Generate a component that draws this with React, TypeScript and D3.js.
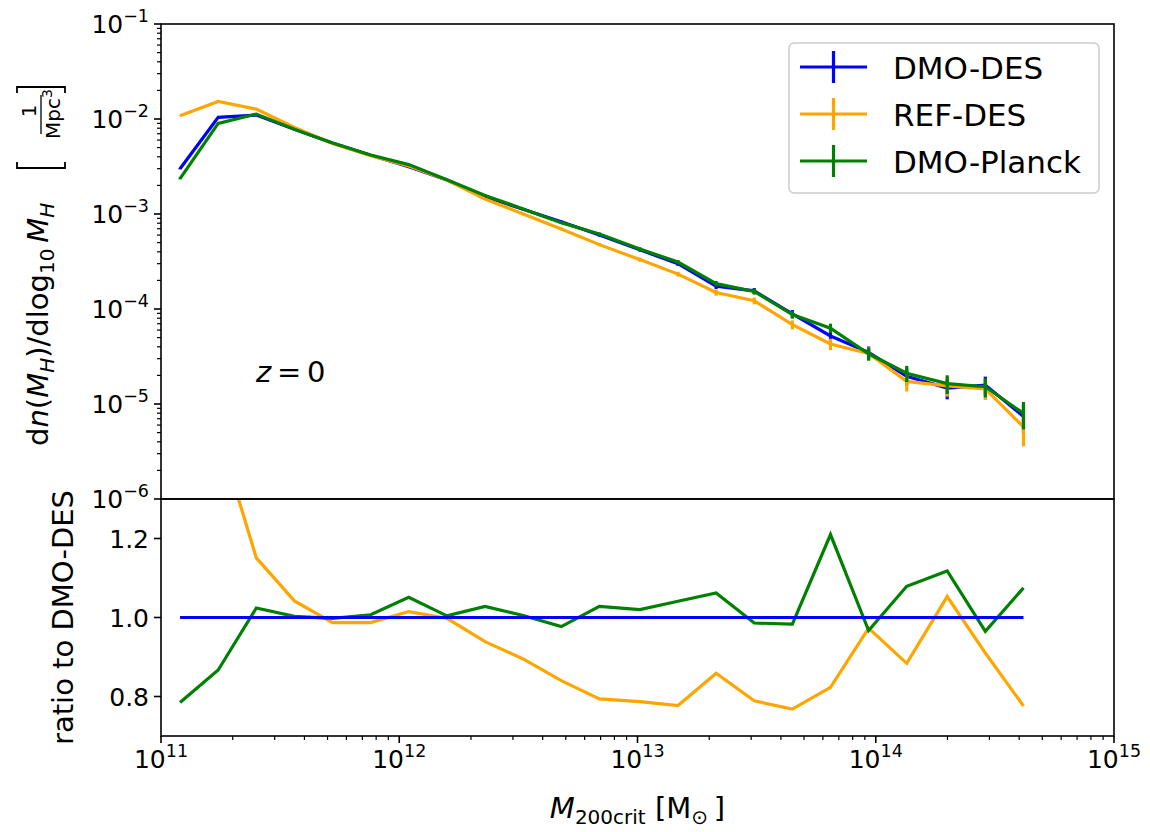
import React from "react";
import * as d3 from "d3";

// ---------- data ----------
const haloMass = [
  1.202e11, 1.738e11, 2.512e11, 3.631e11, 5.248e11, 7.586e11, 1.096e12, 1.585e12,
  2.291e12, 3.311e12, 4.786e12, 6.918e12, 1.023e13, 1.479e13, 2.138e13, 3.09e13,
  4.467e13, 6.457e13, 9.333e13, 1.349e14, 1.995e14, 2.884e14, 4.169e14,
];

const dmoDes = [
  3.0e-3, 1.04e-2, 1.1e-2, 7.8e-3, 5.6e-3, 4.15e-3, 3.15e-3, 2.28e-3, 1.53e-3, 1.12e-3,
  8.3e-4, 6.0e-4, 4.2e-4, 3.0e-4, 1.74e-4, 1.55e-4, 8.9e-5, 5.2e-5, 3.5e-5, 1.96e-5,
  1.47e-5, 1.58e-5, 7.4e-6,
];
const refDes = [
  1.08e-2, 1.53e-2, 1.27e-2, 8.13e-3, 5.53e-3, 4.1e-3, 3.2e-3, 2.28e-3, 1.44e-3, 1.0e-3,
  6.97e-4, 4.76e-4, 3.31e-4, 2.33e-4, 1.49e-4, 1.22e-4, 6.84e-5, 4.28e-5, 3.41e-5, 1.73e-5,
  1.55e-5, 1.44e-5, 5.74e-6,
];
const dmoPlanck = [
  2.36e-3, 9.0e-3, 1.126e-2, 7.82e-3, 5.59e-3, 4.18e-3, 3.31e-3, 2.29e-3, 1.57e-3, 1.13e-3,
  8.11e-4, 6.17e-4, 4.28e-4, 3.12e-4, 1.85e-4, 1.53e-4, 8.75e-5, 6.29e-5, 3.38e-5, 2.11e-5,
  1.64e-5, 1.52e-5, 7.96e-6,
];

const errDmoDes = [
  4.9e-5, 9.2e-5, 9.5e-5, 8.0e-5, 6.7e-5, 5.8e-5, 5.1e-5, 4.3e-5, 3.5e-5, 3.0e-5,
  2.6e-5, 2.2e-5, 1.85e-5, 1.56e-5, 1.19e-5, 1.12e-5, 8.5e-6, 6.5e-6, 5.3e-6, 4.0e-6,
  3.5e-6, 3.6e-6, 2.45e-6,
];
const errRefDes = [
  9.4e-5, 1.12e-4, 1.02e-4, 8.1e-5, 6.7e-5, 5.8e-5, 5.1e-5, 4.3e-5, 3.4e-5, 2.85e-5,
  2.4e-5, 1.97e-5, 1.64e-5, 1.38e-5, 1.1e-5, 1.0e-5, 7.5e-6, 5.9e-6, 5.3e-6, 3.75e-6,
  3.55e-6, 3.4e-6, 2.15e-6,
];
const errDmoPlanck = [
  4.4e-5, 8.6e-5, 9.6e-5, 8.0e-5, 6.7e-5, 5.8e-5, 5.2e-5, 4.3e-5, 3.6e-5, 3.0e-5,
  2.6e-5, 2.25e-5, 1.87e-5, 1.6e-5, 1.23e-5, 1.12e-5, 8.4e-6, 7.2e-6, 5.2e-6, 4.1e-6,
  3.65e-6, 3.5e-6, 2.55e-6,
];

const ratioDmoDes = [
  1, 1, 1, 1, 1, 1, 1, 1, 1, 1, 1, 1, 1, 1, 1, 1, 1, 1, 1, 1, 1, 1, 1,
];
const ratioRefDes = [
  3.6, 1.47, 1.151, 1.042, 0.987, 0.987, 1.015, 0.998, 0.939, 0.895, 0.84, 0.794, 0.787,
  0.777, 0.859, 0.789, 0.768, 0.823, 0.973, 0.884, 1.053, 0.91, 0.776,
];
const ratioDmoPlanck = [
  0.785, 0.867, 1.024, 1.003, 0.998, 1.007, 1.051, 1.004, 1.028, 1.005, 0.977, 1.028, 1.02,
  1.041, 1.062, 0.986, 0.983, 1.21, 0.967, 1.079, 1.118, 0.965, 1.075,
];

const seriesNames = ["DMO-DES", "REF-DES", "DMO-Planck"];
const seriesColors = ["#0000ff", "#ffa500", "#008000"];

const xTickExponents = [11, 12, 13, 14, 15];
const yTopTickExponents = [-1, -2, -3, -4, -5, -6];
const yBotTicks = [0.8, 1.0, 1.2];
const yBotTickLabels = ["0.8", "1.0", "1.2"];

// ---------- layout ----------
const W = 1150;
const H = 832;
const L = 161;
const R = 1114;
const TOP = 24;
const MID = 499;
const BOT = 736;
const FONT = "DejaVu Sans, Verdana, sans-serif";
const LW = 3.2;

export default function App() {
  const x = d3.scaleLog().domain([1e11, 1e15]).range([L, R]);
  const yTop = d3.scaleLog().domain([1e-6, 1e-1]).range([MID, TOP]);
  const yBot = d3.scaleLinear().domain([0.7, 1.3]).range([BOT, MID]);

  const topSeries = [dmoDes, refDes, dmoPlanck];
  const topErr = [errDmoDes, errRefDes, errDmoPlanck];
  const ratios = [ratioDmoDes, ratioRefDes, ratioDmoPlanck];

  const lineTop = d3
    .line<number>()
    .x((_, i) => x(haloMass[i]))
    .y((d) => yTop(d));
  const lineBot = d3
    .line<number>()
    .x((_, i) => x(haloMass[i]))
    .y((d) => yBot(d));

  // minor ticks
  const xMinor: number[] = [];
  for (let e = 11; e < 15; e++) for (let k = 2; k <= 9; k++) xMinor.push(k * Math.pow(10, e));
  const yMinor: number[] = [];
  for (let e = -6; e < -1; e++) for (let k = 2; k <= 9; k++) yMinor.push(k * Math.pow(10, e));

  const tickColor = "#000";

  // ratio-panel draw order: orange, green, then blue
  const botOrder = [1, 2, 0];

  const legendRows = [67, 114, 161];

  return (
    <svg
      width={W}
      height={H}
      viewBox={`0 0 ${W} ${H}`}
      style={{ position: "absolute", left: 0, top: 0, background: "#fff" }}
      fontFamily={FONT}
    >
      <rect x={0} y={0} width={W} height={H} fill="#fff" />
      <defs>
        <clipPath id="clipTop">
          <rect x={L} y={TOP} width={R - L} height={MID - TOP} />
        </clipPath>
        <clipPath id="clipBot">
          <rect x={L} y={MID} width={R - L} height={BOT - MID} />
        </clipPath>
      </defs>

      {/* top panel data */}
      <g clipPath="url(#clipTop)">
        {topSeries.map((s, si) => (
          <g key={si}>
            <path
              d={lineTop(s) || ""}
              fill="none"
              stroke={seriesColors[si]}
              strokeWidth={LW}
              strokeLinejoin="miter"
            />
            {s.map((v, i) => {
              const e = topErr[si][i];
              const lo = Math.max(v - e, 1e-9);
              return (
                <line
                  key={i}
                  x1={x(haloMass[i])}
                  x2={x(haloMass[i])}
                  y1={yTop(v + e)}
                  y2={yTop(lo)}
                  stroke={seriesColors[si]}
                  strokeWidth={LW}
                />
              );
            })}
          </g>
        ))}
      </g>

      {/* bottom panel data */}
      <g clipPath="url(#clipBot)">
        {botOrder.map((si) => (
          <path
            key={si}
            d={lineBot(ratios[si]) || ""}
            fill="none"
            stroke={seriesColors[si]}
            strokeWidth={LW}
          />
        ))}
      </g>

      {/* spines */}
      <rect x={L} y={TOP} width={R - L} height={MID - TOP} fill="none" stroke="#000" strokeWidth={1.6} />
      <rect x={L} y={MID} width={R - L} height={BOT - MID} fill="none" stroke="#000" strokeWidth={1.6} />

      {/* top y ticks */}
      {yTopTickExponents.map((e) => {
        const yy = yTop(Math.pow(10, e));
        return (
          <g key={e}>
            <line x1={L - 7} x2={L} y1={yy} y2={yy} stroke={tickColor} strokeWidth={1.6} />
            <text x={149} y={yy + 9} textAnchor="end" fontSize={25} fill="#000">
              10
              <tspan fontSize={17.5} dy={-11}>
                {"\u2212" + Math.abs(e)}
              </tspan>
            </text>
          </g>
        );
      })}
      {yMinor.map((v, i) => (
        <line key={i} x1={L - 4} x2={L} y1={yTop(v)} y2={yTop(v)} stroke={tickColor} strokeWidth={1.2} />
      ))}

      {/* bottom y ticks */}
      {yBotTicks.map((t, i) => {
        const yy = yBot(t);
        return (
          <g key={t}>
            <line x1={L - 7} x2={L} y1={yy} y2={yy} stroke={tickColor} strokeWidth={1.6} />
            <text x={149} y={yy + 9} textAnchor="end" fontSize={25} fill="#000">
              {yBotTickLabels[i]}
            </text>
          </g>
        );
      })}

      {/* x ticks */}
      {xTickExponents.map((e) => {
        const xx = x(Math.pow(10, e));
        return (
          <g key={e}>
            <line x1={xx} x2={xx} y1={BOT} y2={BOT + 7} stroke={tickColor} strokeWidth={1.6} />
            <text x={xx} y={768} textAnchor="middle" fontSize={25} fill="#000">
              10
              <tspan fontSize={17.5} dy={-11}>
                {String(e)}
              </tspan>
            </text>
          </g>
        );
      })}
      {xMinor.map((v, i) => (
        <line key={i} x1={x(v)} x2={x(v)} y1={BOT} y2={BOT + 4} stroke={tickColor} strokeWidth={1.2} />
      ))}

      {/* x label */}
      <text x={(L + R) / 2} y={818} textAnchor="middle" fontSize={29} fill="#000">
        <tspan fontStyle="italic">M</tspan>
        <tspan fontSize={20} dy={6}>
          200crit
        </tspan>
        <tspan dy={-6}> [M</tspan>
        <tspan fontSize={20} dy={6}>
          {"\u2299"}
        </tspan>
        <tspan dy={-6}>{"\u2009]"}</tspan>
      </text>

      {/* top y label (rotated) */}
      <g transform="translate(48,0) rotate(-90)">
        <text x={-446} y={0} fontSize={29} fill="#000">
          d<tspan fontStyle="italic">n</tspan>(<tspan fontStyle="italic">M</tspan>
          <tspan fontSize={20} dy={6} fontStyle="italic">
            H
          </tspan>
          <tspan dy={-6}>)/dlog</tspan>
          <tspan fontSize={20} dy={6}>
            10
          </tspan>
          <tspan dy={-6} fontStyle="italic">
            {"\u2009M"}
          </tspan>
          <tspan fontSize={20} dy={6} fontStyle="italic">
            H
          </tspan>
        </text>
        {/* bracket with fraction 1 / Mpc^3 */}
        <path d="M -162 -31 L -168 -31 L -168 17 L -162 17" fill="none" stroke="#000" strokeWidth={1.8} />
        <path d="M -93 -31 L -87 -31 L -87 17 L -93 17" fill="none" stroke="#000" strokeWidth={1.8} />
        <text x={-111} y={-12} textAnchor="middle" fontSize={20} fill="#000">
          1
        </text>
        <line x1={-134} x2={-95} y1={-7} y2={-7} stroke="#000" strokeWidth={1.3} />
        <text x={-114} y={12} textAnchor="middle" fontSize={20} fill="#000">
          Mpc
          <tspan fontSize={14} dy={-8}>
            3
          </tspan>
        </text>
      </g>

      {/* bottom y label */}
      <text
        transform={`translate(73,${(MID + BOT) / 2}) rotate(-90)`}
        textAnchor="middle"
        fontSize={29}
        fill="#000"
      >
        ratio to DMO-DES
      </text>

      {/* z = 0 annotation */}
      <text x={256} y={382} fontSize={29} fill="#000">
        <tspan fontStyle="italic">z</tspan>
        <tspan>{"\u2009=\u20090"}</tspan>
      </text>

      {/* legend */}
      <rect x={789} y={43} width={310} height={150} rx={5} ry={5} fill="#fff" fillOpacity={0.8} stroke="#cccccc" strokeWidth={1.5} />
      {seriesNames.map((name, i) => {
        const yy = legendRows[i];
        return (
          <g key={name}>
            <line x1={800} x2={867} y1={yy} y2={yy} stroke={seriesColors[i]} strokeWidth={LW} />
            <line x1={833.5} x2={833.5} y1={yy - 16} y2={yy + 16} stroke={seriesColors[i]} strokeWidth={LW} />
            <text x={893} y={yy + 11.5} fontSize={31} fill="#000">
              {name}
            </text>
          </g>
        );
      })}
    </svg>
  );
}
